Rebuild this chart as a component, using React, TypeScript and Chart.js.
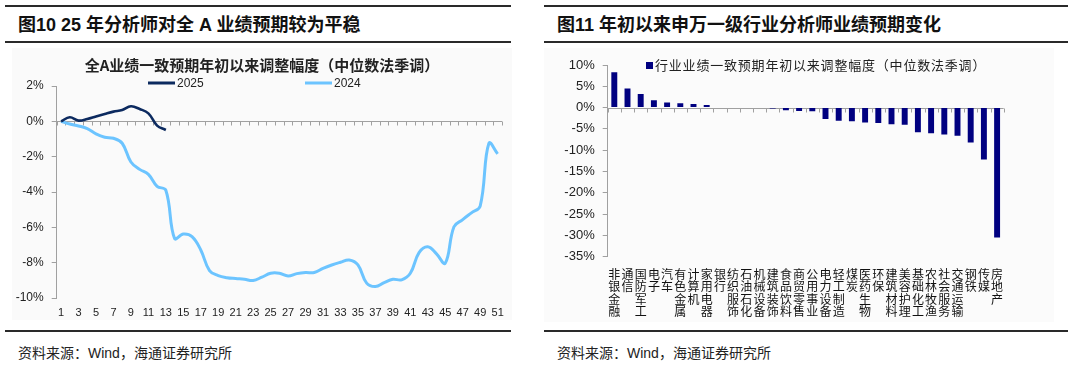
import React, { useEffect, useRef } from 'react';
import { Chart, registerables } from 'chart.js';

Chart.register(...registerables);

// ---------- Left chart data ----------
const weekLabels = ['1','2','3','4','5','6','7','8','9','10','11','12','13','14','15','16','17','18','19','20','21','22','23','24','25','26','27','28','29','30','31','32','33','34','35','36','37','38','39','40','41','42','43','44','45','46','47','48','49','50','51'];
const series2025 = [0, 0.23, 0.04, 0.13, 0.28, 0.42, 0.55, 0.64, 0.85, 0.70, 0.45, -0.24, -0.49];
const series2024 = [0, -0.15, -0.26, -0.41, -0.71, -0.90, -0.96, -1.24, -2.30, -2.72, -3.00, -3.68, -3.90,
  -6.63, -6.38, -6.53, -7.28, -8.45, -8.73, -8.85, -8.90, -8.94, -9.01,
  -8.82, -8.60, -8.60, -8.75, -8.62, -8.56, -8.56, -8.32, -8.13, -7.98,
  -7.85, -8.13, -9.16, -9.35, -9.13, -8.94, -8.97, -8.60, -7.43, -7.10,
  -7.50, -8.03, -5.97, -5.56, -5.18, -4.80, -1.24, -1.84];
const leftYTicks = [2, 0, -2, -4, -6, -8, -10];

// ---------- Right chart data ----------
const industries = ['非银金融','通信','国防军工','电子','汽车','有色金属','计算机','家用电器','银行','纺织服饰','石油石化','机械设备','建筑装饰','食品饮料','商贸零售','公用事业','电力设备','轻工制造','煤炭','医药生物','环保','建筑材料','美容护理','基础化工','农林牧渔','社会服务','交通运输','钢铁','传媒','房地产'];
const industryValues = [8.3, 4.5, 3.2, 1.7, 1.2, 1.0, 0.85, 0.6, 0, 0, 0, 0, -0.2, -0.6, -0.8, -0.85, -2.7, -3.1, -3.2, -3.5, -3.6, -3.9, -4.0, -5.8, -6.0, -6.3, -6.6, -8.2, -12.2, -30.5];
const rightYTicks = [10, 5, 0, -5, -10, -15, -20, -25, -30, -35];

const LATIN = "'Liberation Sans', Arial, 'Noto Sans CJK SC', sans-serif";
const CJK = "'Noto Sans CJK SC', 'Liberation Sans', sans-serif";
const NAVY_LINE = '#0c2a5f';
const LIGHT_BLUE = '#6cc4ff';
const BAR_NAVY = '#000080';
const AXIS_GRAY = '#a0a0a0';

// draws a horizontal axis at value 0 with tick marks at category boundaries
const zeroAxisPlugin = {
  id: 'zeroAxis',
  beforeDatasetsDraw(chart: any) {
    const x = chart.scales.x;
    const y = chart.scales.y;
    const ctx = chart.ctx;
    const y0 = Math.round(y.getPixelForValue(0)) + 0.5;
    const n = chart.data.labels.length;
    ctx.save();
    ctx.strokeStyle = AXIS_GRAY;
    ctx.lineWidth = 1;
    ctx.beginPath();
    ctx.moveTo(x.left, y0);
    ctx.lineTo(x.right, y0);
    for (let i = 0; i <= n; i++) {
      const px = Math.round(x.left + (i * x.width) / n) + 0.5;
      ctx.moveTo(px, y0);
      ctx.lineTo(px, y0 + 4);
    }
    ctx.stroke();
    ctx.restore();
  },
};

const leftOverlayPlugin = {
  id: 'leftOverlay',
  afterDraw(chart: any) {
    const ctx = chart.ctx;
    ctx.save();
    ctx.fillStyle = '#222';
    ctx.font = `bold 15px ${CJK}`;
    ctx.textAlign = 'center';
    ctx.textBaseline = 'middle';
    ctx.fillText('全A业绩一致预期年初以来调整幅度（中位数法季调）', 250, 17);
    // legend
    const items = [
      { label: '2025', color: NAVY_LINE, x: 136 },
      { label: '2024', color: LIGHT_BLUE, x: 293 },
    ];
    ctx.font = `12px ${LATIN}`;
    ctx.textAlign = 'left';
    items.forEach((it) => {
      ctx.strokeStyle = it.color;
      ctx.lineWidth = 3;
      ctx.beginPath();
      ctx.moveTo(it.x, 35);
      ctx.lineTo(it.x + 27, 35);
      ctx.stroke();
      ctx.fillStyle = '#222';
      ctx.fillText(it.label, it.x + 29, 35.5);
    });
    ctx.restore();
  },
};

const rightOverlayPlugin = {
  id: 'rightOverlay',
  afterDraw(chart: any) {
    const ctx = chart.ctx;
    ctx.save();
    ctx.fillStyle = BAR_NAVY;
    ctx.fillRect(98, 14, 7, 7);
    ctx.fillStyle = '#222';
    ctx.font = `13px ${CJK}`;
    try { (ctx as any).letterSpacing = '0.8px'; } catch (e) {}
    ctx.textAlign = 'left';
    ctx.textBaseline = 'middle';
    ctx.fillText('行业业绩一致预期年初以来调整幅度（中位数法季调）', 107, 17.5);
    ctx.restore();
  },
};

function LeftChart() {
  const ref = useRef<HTMLCanvasElement | null>(null);
  useEffect(() => {
    if (!ref.current) return;
    const chart = new Chart(ref.current, {
      type: 'line',
      data: {
        labels: weekLabels,
        datasets: [
          { label: '2025', data: series2025, borderColor: NAVY_LINE, borderWidth: 2.6, pointRadius: 0, tension: 0.4, fill: false },
          { label: '2024', data: series2024, borderColor: LIGHT_BLUE, borderWidth: 3, pointRadius: 0, tension: 0.4, fill: false },
        ],
      },
      options: {
        animation: false,
        responsive: false,
        maintainAspectRatio: false,
        layout: { padding: { top: 38, right: 13, left: 0, bottom: 0 } },
        plugins: { legend: { display: false }, title: { display: false }, tooltip: { enabled: false } },
        scales: {
          x: {
            type: 'category',
            offset: true,
            grid: { display: false, drawTicks: false },
            border: { display: false },
            ticks: {
              autoSkip: false,
              maxRotation: 0,
              padding: 8,
              color: '#222',
              font: { size: 11, family: LATIN },
              callback: (_v: any, i: number) => (i % 2 === 0 ? weekLabels[i] : ''),
            },
            afterFit: (s: any) => { s.height = 22; },
          },
          y: {
            min: -10,
            max: 2,
            afterBuildTicks: (s: any) => { s.ticks = leftYTicks.map((v) => ({ value: v })); },
            ticks: { color: '#222', padding: 8, font: { size: 12, family: LATIN }, callback: (v: any) => `${v}%` },
            grid: { drawOnChartArea: false, drawTicks: true, tickLength: 5, color: AXIS_GRAY },
            border: { display: true, color: AXIS_GRAY },
            afterFit: (s: any) => { s.width = 44.7; },
          },
        },
      } as any,
      plugins: [zeroAxisPlugin, leftOverlayPlugin],
    });
    return () => chart.destroy();
  }, []);
  return <canvas ref={ref} width={503} height={272} style={{ position: 'absolute', left: 12, top: 48, width: 503, height: 272 }} />;
}

function RightChart() {
  const ref = useRef<HTMLCanvasElement | null>(null);
  useEffect(() => {
    if (!ref.current) return;
    const chart = new Chart(ref.current, {
      type: 'bar',
      data: {
        labels: industries.map((s) => s.split('')),
        datasets: [
          { label: '行业业绩一致预期年初以来调整幅度（中位数法季调）', data: industryValues, backgroundColor: BAR_NAVY, barPercentage: 0.9, categoryPercentage: 0.5 },
        ],
      },
      options: {
        animation: false,
        responsive: false,
        maintainAspectRatio: false,
        layout: { padding: { top: 17, right: 64.3, left: 0, bottom: 0 } },
        plugins: { legend: { display: false }, title: { display: false }, tooltip: { enabled: false } },
        scales: {
          x: {
            type: 'category',
            grid: { display: false, drawTicks: false },
            border: { display: false },
            ticks: {
              autoSkip: false,
              maxRotation: 0,
              padding: 11,
              color: '#111',
              font: { size: 12, family: CJK, lineHeight: 1.05 },
            },
            afterFit: (s: any) => { s.height = 65.3; },
          },
          y: {
            min: -35,
            max: 10,
            afterBuildTicks: (s: any) => { s.ticks = rightYTicks.map((v) => ({ value: v })); },
            ticks: { color: '#222', padding: 8, font: { size: 13, family: LATIN }, callback: (v: any) => `${v}%` },
            grid: { drawOnChartArea: false, drawTicks: true, tickLength: 5, color: AXIS_GRAY },
            border: { display: true, color: AXIS_GRAY },
            afterFit: (s: any) => { s.width = 59.7; },
          },
        },
      } as any,
      plugins: [zeroAxisPlugin, rightOverlayPlugin],
    });
    return () => chart.destroy();
  }, []);
  return <canvas ref={ref} width={520} height={274} style={{ position: 'absolute', left: 548, top: 48, width: 520, height: 274 }} />;
}

const ruleStyle = (left: number, top: number, width: number): React.CSSProperties => ({
  position: 'absolute', left, top, width, height: 2, background: '#2a2a2a',
});

const titleStyle = (left: number): React.CSSProperties => ({
  position: 'absolute', left, top: 13, height: 24, lineHeight: '24px',
  fontFamily: LATIN, fontWeight: 'bold', fontSize: 18, color: '#111', whiteSpace: 'nowrap',
});

const footStyle = (left: number): React.CSSProperties => ({
  position: 'absolute', left, top: 343, height: 20, lineHeight: '20px',
  fontFamily: LATIN, fontSize: 14, color: '#222', whiteSpace: 'nowrap',
});

export default function App() {
  return (
    <div style={{ position: 'fixed', left: 0, top: 0, width: 1080, height: 375, background: '#fff', overflow: 'hidden' }}>
      {/* left panel */}
      <div style={ruleStyle(5, 5, 506)} />
      <div style={titleStyle(18)}>图10 25 年分析师对全 A 业绩预期较为平稳</div>
      <div style={ruleStyle(5, 41, 506)} />
      <div style={{ position: 'absolute', left: 12, top: 48, width: 500, height: 272, background: '#fafafa' }} />
      <LeftChart />
      <div style={ruleStyle(5, 330, 506)} />
      <div style={footStyle(18)}>资料来源：Wind，海通证券研究所</div>

      {/* right panel */}
      <div style={ruleStyle(544, 5, 524)} />
      <div style={titleStyle(557)}>图11 年初以来申万一级行业分析师业绩预期变化</div>
      <div style={ruleStyle(544, 41, 524)} />
      <div style={{ position: 'absolute', left: 544, top: 48, width: 510, height: 274, background: '#fbfbfb' }} />
      <RightChart />
      <div style={ruleStyle(544, 330, 524)} />
      <div style={footStyle(557)}>资料来源：Wind，海通证券研究所</div>
    </div>
  );
}
